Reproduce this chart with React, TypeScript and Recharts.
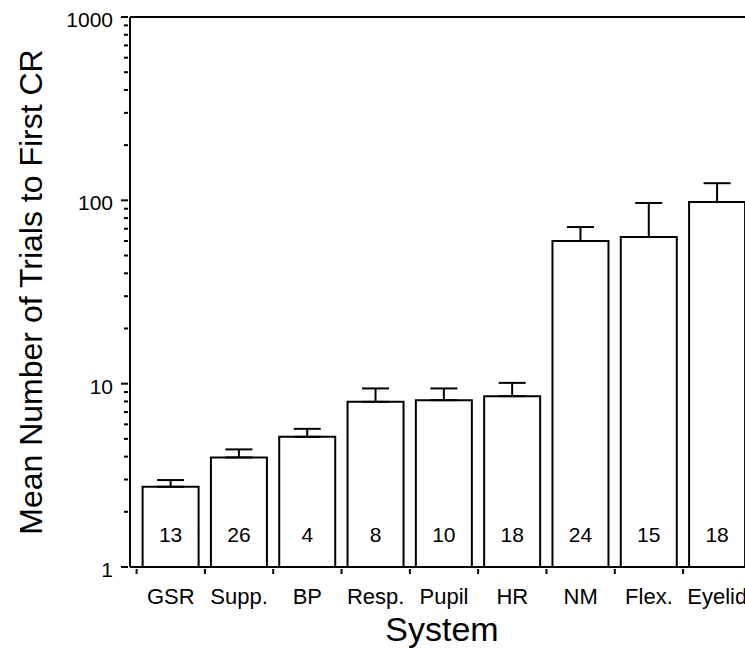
import React from 'react'
import { BarChart, Bar, XAxis, YAxis, ErrorBar, LabelList, ReferenceLine } from 'recharts'

const FONT = '"Liberation Sans", Arial, Helvetica, sans-serif'

const systems = ['GSR', 'Supp.', 'BP', 'Resp.', 'Pupil', 'HR', 'NM', 'Flex.', 'Eyelid']
const meanTrials = [2.74, 3.96, 5.13, 7.96, 8.13, 8.55, 60.0, 63.1, 97.9]
const upperTrials = [2.98, 4.38, 5.67, 9.42, 9.42, 10.1, 71.5, 96.7, 124]
const subjects = [13, 26, 4, 8, 10, 18, 24, 15, 18]

const yTicks = [
  1, 2, 3, 4, 5, 6, 7, 8, 9,
  10, 20, 30, 40, 50, 60, 70, 80, 90,
  100, 200, 300, 400, 500, 600, 700, 800, 900,
  1000,
]
const majorTicks = [1, 10, 100, 1000]

const data = systems.map((name, i) => ({
  name,
  mean: meanTrials[i],
  err: [0, upperTrials[i] - meanTrials[i]],
  n: subjects[i],
}))

function XTick({ x, y, payload }: any) {
  const half = payload?.offset ?? 34
  return (
    <g>
      <line x1={x - half} y1={y} x2={x - half} y2={y + 5} stroke="#000" strokeWidth={2} />
      <text x={x} y={y + 35} textAnchor="middle" fontSize={22} fontFamily={FONT} fill="#000">
        {payload.value}
      </text>
    </g>
  )
}

function YTick({ x, y, payload }: any) {
  const major = majorTicks.includes(payload.value)
  return (
    <g>
      <line x1={x - (major ? 7 : 4)} y1={y} x2={x} y2={y} stroke="#000" strokeWidth={2} />
      {major && (
        <text x={x - 15} y={y + 10} textAnchor="end" fontSize={21} fontFamily={FONT} fill="#000">
          {payload.value}
        </text>
      )}
    </g>
  )
}

function YTitle({ viewBox }: any) {
  const cx = viewBox.x + 42
  const cy = viewBox.y + viewBox.height / 2
  return (
    <text
      x={cx}
      y={cy}
      transform={`rotate(-90, ${cx}, ${cy})`}
      textAnchor="middle"
      fontSize={32}
      fontFamily={FONT}
      fill="#000"
    >
      Mean Number of Trials to First CR
    </text>
  )
}

function XTitle({ viewBox }: any) {
  return (
    <text
      x={viewBox.x + viewBox.width / 2 - 2}
      y={viewBox.y + 74}
      textAnchor="middle"
      fontSize={34}
      fontFamily={FONT}
      fill="#000"
    >
      System
    </text>
  )
}

function CountLabel({ x, y, width, height, value }: any) {
  return (
    <text
      x={Number(x) + Number(width) / 2}
      y={Number(y) + Number(height) - 25}
      textAnchor="middle"
      fontSize={21}
      fontFamily={FONT}
      fill="#000"
    >
      {value}
    </text>
  )
}

export default function App() {
  return (
    <div
      style={{
        position: 'fixed',
        top: 0,
        left: 0,
        width: 745,
        height: 649,
        overflow: 'hidden',
        background: '#fff',
      }}
    >
      <BarChart width={758} height={649} data={data} margin={{ top: 17, right: 0, left: 0, bottom: 0 }}>
        <XAxis
          dataKey="name"
          height={82}
          padding={{ left: 6.6, right: 6.6 }}
          interval={0}
          tickSize={0}
          tickLine={false}
          axisLine={{ stroke: '#000', strokeWidth: 2 }}
          tick={<XTick />}
          label={<XTitle />}
        />
        <YAxis
          scale="log"
          type="number"
          domain={[1, 1000]}
          allowDataOverflow
          ticks={yTicks}
          interval={0}
          width={130}
          tickSize={0}
          tickLine={false}
          axisLine={{ stroke: '#000', strokeWidth: 2 }}
          tick={<YTick />}
          label={<YTitle />}
        />
        <ReferenceLine y={1000} stroke="#000" strokeWidth={2} />
        <Bar dataKey="mean" fill="#fff" stroke="#000" strokeWidth={2} barSize={56} isAnimationActive={false}>
          <ErrorBar dataKey="err" direction="y" width={13.5} stroke="#000" strokeWidth={2} isAnimationActive={false} />
          <LabelList dataKey="n" content={<CountLabel />} />
        </Bar>
      </BarChart>
    </div>
  )
}
